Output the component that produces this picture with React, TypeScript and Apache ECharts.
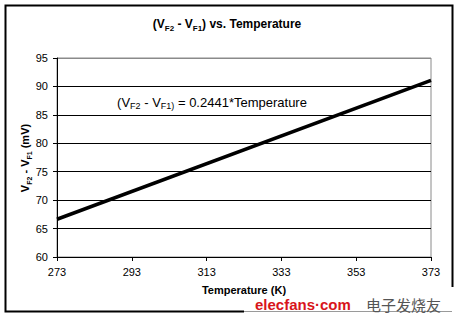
import React, { useEffect, useRef } from "react";
import * as echarts from "echarts";

const temperatures = [273, 373];
const deltaV = [66.64, 91.05];
const xTickLabels = [273, 293, 313, 333, 353, 373];
const yTicks = [60, 65, 70, 75, 80, 85, 90, 95];

const FONT = "'Liberation Sans', Arial, sans-serif";

export default function App() {
  const ref = useRef<HTMLDivElement>(null);

  useEffect(() => {
    if (!ref.current) return;
    const chart = echarts.init(ref.current, undefined, { renderer: "svg" });
    const lineData = temperatures.map((t, i) => [t, deltaV[i]]);
    chart.setOption({
      animation: false,
      backgroundColor: "#ffffff",
      textStyle: { fontFamily: FONT },
      grid: {
        left: 57,
        right: 28,
        top: 58,
        bottom: 63,
        show: true,
        borderColor: "#8a8a8a",
        borderWidth: 1,
        backgroundColor: "transparent",
      },
      xAxis: {
        type: "value",
        min: 273,
        max: 373,
        axisLine: { show: true, lineStyle: { color: "#000", width: 1 } },
        axisTick: {
          show: true,
          customValues: xTickLabels,
          length: 4,
          lineStyle: { color: "#000" },
        },
        axisLabel: {
          customValues: xTickLabels,
          color: "#000",
          fontSize: 11,
          fontFamily: FONT,
          margin: 9,
        },
        splitLine: { show: false },
      },
      yAxis: {
        type: "value",
        min: yTicks[0],
        max: yTicks[yTicks.length - 1],
        interval: 5,
        axisLine: { show: true, lineStyle: { color: "#000", width: 1 } },
        axisTick: { show: true, length: 4, lineStyle: { color: "#000" } },
        axisLabel: {
          color: "#000",
          fontSize: 11,
          fontFamily: FONT,
          margin: 9,
        },
        splitLine: {
          show: true,
          lineStyle: {
            color: yTicks.map((v, i) => (i === yTicks.length - 1 ? "#8a8a8a" : "#000")),
            width: 1,
          },
        },
      },
      series: [
        {
          type: "line",
          data: lineData,
          symbol: "none",
          lineStyle: { color: "#000", width: 3.5 },
        },
      ],
      graphic: [
        {
          type: "rect",
          shape: { x: 5.5, y: 5.5, width: 447, height: 306 },
          style: { fill: "none", stroke: "#000", lineWidth: 2 },
          silent: true,
        },
        {
          type: "text",
          x: 227,
          y: 24,
          style: {
            text: "(V{sub|F2} - V{sub|F1}) vs. Temperature",
            align: "center",
            verticalAlign: "middle",
            font: `bold 12px ${FONT}`,
            fill: "#000",
            rich: {
              sub: {
                fontSize: 8,
                fontWeight: "bold",
                fontFamily: FONT,
                verticalAlign: "bottom",
                lineHeight: 10,
              },
            },
            lineHeight: 16,
          },
        },
        {
          type: "text",
          x: 212,
          y: 102,
          style: {
            text: "(V{sub|F2} - V{sub|F1)} = 0.2441*Temperature",
            align: "center",
            verticalAlign: "middle",
            font: `13px ${FONT}`,
            fill: "#000",
            rich: {
              sub: {
                fontSize: 9,
                fontFamily: FONT,
                verticalAlign: "bottom",
                lineHeight: 11,
              },
            },
            lineHeight: 17,
          },
        },
        {
          type: "text",
          x: 25,
          y: 158,
          rotation: Math.PI / 2,
          style: {
            text: "V{sub|F2} - V{sub|F1} (mV)",
            align: "center",
            verticalAlign: "middle",
            font: `bold 11px ${FONT}`,
            fill: "#000",
            rich: {
              sub: {
                fontSize: 7,
                fontWeight: "bold",
                fontFamily: FONT,
                verticalAlign: "bottom",
                lineHeight: 9,
              },
            },
            lineHeight: 15,
          },
        },
        {
          type: "text",
          x: 244,
          y: 290,
          style: {
            text: "Temperature (K)",
            align: "center",
            verticalAlign: "middle",
            font: `bold 11px ${FONT}`,
            fill: "#000",
          },
        },
        {
          type: "rect",
          shape: { x: 244, y: 297, width: 215, height: 23 },
          style: { fill: "#ffffff" },
          silent: true,
        },
        {
          type: "rect",
          shape: { x: 448, y: 287, width: 11, height: 12 },
          style: { fill: "#ffffff" },
          silent: true,
        },
        {
          type: "line",
          shape: { x1: 244, y1: 311.5, x2: 452, y2: 311.5 },
          style: { stroke: "#9a9a9a", lineWidth: 1 },
          silent: true,
        },
        {
          type: "text",
          x: 255,
          y: 304,
          style: {
            text: "elecfans·com",
            align: "left",
            verticalAlign: "middle",
            font: `bold 15px ${FONT}`,
            fill: "#d8141b",
          },
        },
        {
          type: "text",
          x: 366,
          y: 304,
          style: {
            text: "电子发烧友",
            align: "left",
            verticalAlign: "middle",
            font: `15px 'Noto Sans CJK SC', sans-serif`,
            fill: "#555555",
          },
        },
      ],
    });
    return () => chart.dispose();
  }, []);

  return (
    <div
      ref={ref}
      style={{ position: "fixed", left: 0, top: 0, width: 459, height: 320 }}
    />
  );
}
